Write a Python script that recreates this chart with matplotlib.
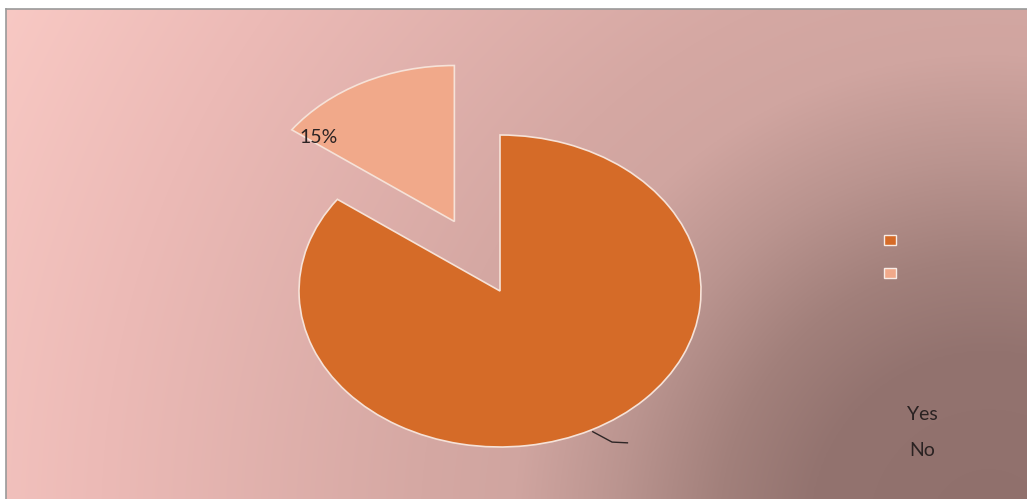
import numpy as np
import matplotlib
matplotlib.use("Agg")
import matplotlib.pyplot as plt
from matplotlib.patches import Rectangle

# Survey answers
categories = ["Yes", "No"]
shares = [85, 15]
pct_labels = ["85%", "15%"]
colors = ["#D56B28", "#F1A98A"]

W, H = 1027, 499
fig = plt.figure(figsize=(W / 100, H / 100), dpi=100)
fig.patch.set_facecolor("white")

# Chart area (pixel box from top-left)
x0, y0 = 6, 9
bg_ax = fig.add_axes([x0 / W, 0, (W - x0) / W, (H - y0) / H])
bg_ax.set_axis_off()

# Soft shading that darkens towards the lower-right corner
xs = np.linspace(x0, W, 420)[None, :]
ys = np.linspace(y0, H, 220)[:, None]
d = np.hypot(xs - 990, (ys - 530) * 1.0)
d_stops = [0, 180, 270, 370, 475, 570, 890, 1150]
rgb_stops = np.array([
    (144, 112, 108), (147, 115, 111), (162, 128, 123), (186, 148, 143),
    (208, 165, 160), (213, 168, 163), (236, 186, 182), (250, 203, 198),
]) / 255.0
img = np.dstack([np.interp(d, d_stops, rgb_stops[:, k]) for k in range(3)])
bg_ax.imshow(img, aspect="auto", extent=[0, 1, 1, 0], interpolation="bilinear")
bg_ax.set_xlim(0, 1)
bg_ax.set_ylim(1, 0)

# Thin frame on top and left edges
fig.add_artist(plt.Line2D([x0 / W, 1], [1 - y0 / H, 1 - y0 / H],
                          color="#9a9a9a", lw=1.2, transform=fig.transFigure))
fig.add_artist(plt.Line2D([x0 / W, x0 / W], [0, 1 - y0 / H],
                          color="#9a9a9a", lw=1.2, transform=fig.transFigure))

# Pie axes: full figure, data unit = pie radius (stretched horizontally)
cx, cy = 500, H - 291
rx, ry = 201, 156
ax = fig.add_axes([0, 0, 1, 1])
ax.set_axis_off()
wedges, _ = ax.pie(
    shares, colors=colors, startangle=90, counterclock=False,
    explode=[0, 0.5], radius=1.0,
    wedgeprops=dict(edgecolor="#F6E2D8", linewidth=1.2),
)
ax.set_aspect("auto")
ax.set_xlim((0 - cx) / rx, (W - cx) / rx)
ax.set_ylim((0 - cy) / ry, (H - cy) / ry)

font = ["Lato", "DejaVu Sans"]

# Percentage label near the outer tip of the small slice
w_no = wedges[1]
ang = np.deg2rad(max(w_no.theta1, w_no.theta2) - 2.5)
ccx, ccy = w_no.center
ax.text(ccx + 0.86 * np.cos(ang), ccy + 0.86 * np.sin(ang), pct_labels[1],
        ha="center", va="center", fontsize=14, color="#2b2323", family=font)

# Leader line from the large slice
w_yes = wedges[0]
mid = np.deg2rad((w_yes.theta1 + w_yes.theta2) / 2)
p0 = (1.01 * np.cos(mid), 1.01 * np.sin(mid))
p1 = (1.087 * np.cos(mid) + 0.064, 1.087 * np.sin(mid))
p2 = (p1[0] + 0.08, p1[1] - 0.005)
ax.plot([p0[0], p1[0], p2[0]], [p0[1], p1[1], p2[1]],
        color="#2e2626", lw=1.0, solid_capstyle="butt")

# Legend swatches and names
sw_w, sw_h = 12, 10
for i, col in enumerate(colors):
    px, py = 884, 240 + 33 * i
    fig.add_artist(Rectangle((px / W, 1 - (py + sw_h / 2) / H),
                             sw_w / W, sw_h / H, transform=fig.transFigure,
                             facecolor=col, edgecolor="#F8ECE6", lw=1.0))
for i, name in enumerate(categories):
    fig.text(922 / W, 1 - (414 + 36 * i) / H, name, ha="center", va="center",
             fontsize=14, color="#2a2222", family=font)

fig.savefig("out.png", dpi=100)
